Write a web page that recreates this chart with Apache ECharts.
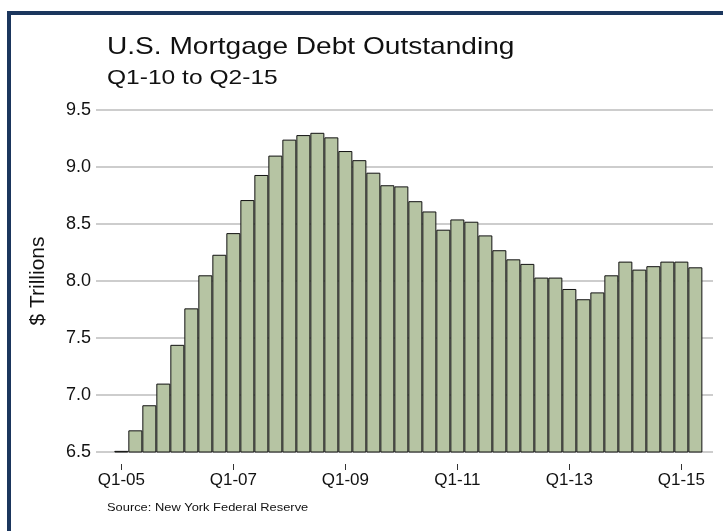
<!DOCTYPE html>
<html>
<head>
<meta charset="utf-8">
<script src="https://cdn.jsdelivr.net/npm/echarts@6/dist/echarts.min.js"></script>
<style>
  html, body { margin: 0; padding: 0; background: #fff; }
  #main { width: 723px; height: 531px; }
</style>
</head>
<body>
<div id="main"></div>
<script>
// quarters Q1-05 .. Q2-15
var quarters = [];
for (var y = 5; y <= 15; y++) {
    for (var q = 1; q <= 4; q++) {
        if (y == 15 && q > 2) break;
        quarters.push('Q' + q + '-' + (y < 10 ? '0' + y : y));
    }
}
// $ trillions
var debt = [6.51, 6.69, 6.91, 7.10, 7.44, 7.76, 8.05, 8.23, 8.42, 8.71,
            8.93, 9.10, 9.24, 9.28, 9.30, 9.26, 9.14, 9.06, 8.95, 8.84,
            8.83, 8.70, 8.61, 8.45, 8.54, 8.52, 8.40, 8.27, 8.19, 8.15,
            8.03, 8.03, 7.93, 7.84, 7.90, 8.05, 8.17, 8.10, 8.13, 8.17,
            8.17, 8.12];
var tickLabels = ['Q1-05', 'Q1-07', 'Q1-09', 'Q1-11', 'Q1-13', 'Q1-15'];
var tickIndex = tickLabels.map(function (t) { return quarters.indexOf(t); });

var font = 'Helvetica, Arial, "Liberation Sans", sans-serif';

var option = {
    backgroundColor: '#fff',
    animation: false,
    grid: { left: 96, right: 10, top: 110, bottom: 79 },
    graphic: [
        { type: 'rect', shape: { x: 7, y: 11, width: 716, height: 4 }, style: { fill: '#1b365d' } },
        { type: 'rect', shape: { x: 7, y: 11, width: 4, height: 520 }, style: { fill: '#1b365d' } },
        { type: 'text', x: 107, y: 47, scaleX: 1.17,
          style: { text: 'U.S. Mortgage Debt Outstanding', font: '24px ' + font, fill: '#111', verticalAlign: 'middle' } },
        { type: 'text', x: 107, y: 78, scaleX: 1.17,
          style: { text: 'Q1-10 to Q2-15', font: '21px ' + font, fill: '#111', verticalAlign: 'middle' } },
        { type: 'text', x: 107, y: 508, scaleX: 1.17,
          style: { text: 'Source: New York Federal Reserve', font: '11px ' + font, fill: '#111', verticalAlign: 'middle' } }
    ],
    xAxis: {
        type: 'value',
        min: -1.81,
        max: 42.26,
        offset: 12,
        axisLine: { show: false },
        splitLine: { show: false },
        axisTick: { show: true, customValues: tickIndex, length: 6, lineStyle: { color: '#333' } },
        axisLabel: {
            customValues: tickIndex,
            margin: 8,
            fontFamily: font,
            fontSize: 17,
            color: '#111',
            formatter: function (v) { return quarters[Math.round(v)]; }
        }
    },
    yAxis: {
        type: 'value',
        min: 6.5,
        max: 9.5,
        interval: 0.5,
        name: '$ Trillions',
        nameLocation: 'middle',
        nameRotate: 90,
        nameGap: 47,
        nameTextStyle: { fontFamily: font, fontSize: 21, color: '#111' },
        axisLine: { show: false },
        axisTick: { show: false },
        axisLabel: {
            margin: 5,
            fontFamily: font,
            fontSize: 18,
            color: '#111',
            formatter: function (v) { return v.toFixed(1); }
        },
        splitLine: { lineStyle: { color: '#bdbdbd', width: 1.5 } }
    },
    series: [{
        type: 'bar',
        barWidth: 14,
        data: debt.map(function (v, i) { return [i, v]; }),
        itemStyle: { color: '#b6c4a3', borderColor: '#111', borderWidth: 1 }
    }]
};

var chart = echarts.init(document.getElementById('main'));
chart.setOption(option);
</script>
</body>
</html>
